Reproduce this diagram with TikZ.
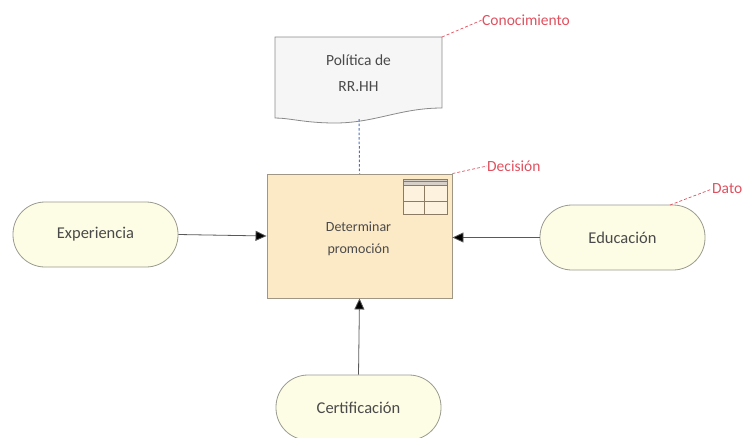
\documentclass[tikz,border=0pt]{standalone}
\usepackage{fontspec}
\setmainfont{Carlito}
\usetikzlibrary{arrows.meta}
\definecolor{txtgray}{HTML}{4A4A4A}
\definecolor{lblred}{HTML}{E0505E}
\definecolor{pillfill}{HTML}{FDFCE4}
\definecolor{pillline}{HTML}{9A9A90}
\definecolor{boxfill}{HTML}{FCE9C6}
\definecolor{boxline}{HTML}{A09684}
\definecolor{iconline}{HTML}{8C7A62}
\definecolor{docfill}{HTML}{F6F6F6}
\definecolor{docline}{HTML}{8A8A8A}
\definecolor{linkblue}{HTML}{4A72C0}
\tikzset{
  pill/.style={draw=pillline, fill=pillfill, line width=0.8pt, rounded corners=32pt,
    minimum width=165pt, minimum height=65pt, text=txtgray, font=\fontsize{16.5}{18}\selectfont},
  decisionbox/.style={draw=boxline, fill=boxfill, line width=0.9pt,
    minimum width=185pt, minimum height=124pt, text=txtgray, align=center,
    font=\fontsize{14}{22}\selectfont},
  tag/.style={text=lblred, font=\fontsize{15.5}{18}\selectfont, anchor=west, inner sep=0pt},
  tagline/.style={draw=lblred, dashed, line width=0.7pt, dash pattern=on 3pt off 2pt},
  flow/.style={draw=black!65, line width=0.8pt, -{Triangle[length=11pt,width=10pt,fill=black]}},
  iconrule/.style={draw=iconline, line width=0.9pt},
}
\begin{document}
\begin{tikzpicture}[x=1pt,y=-1pt]
\useasboundingbox (0,0) rectangle (751,437);

% document shape for the knowledge source
\filldraw[draw=docline, fill=docfill, line width=0.8pt]
  (275,37) -- (442,37) -- (442,108)
  .. controls (400,108) and (375,123) .. (335,123)
  .. controls (305,123) and (290,118) .. (275,118) -- cycle;
\node[text=txtgray, align=center, font=\fontsize{15.5}{26}\selectfont] (doc) at (358.5,73) {Política de\\RR.HH};
\coordinate (docbot) at (359,119);
\coordinate (doctr) at (442,37);

% decision
\node[decisionbox] (dec) at (359.5,236) {};
\node[text=txtgray, align=center, font=\fontsize{14}{22}\selectfont] (dectext) at (358.5,239) {Determinar\\promoción};
% table icon
\draw[iconrule, fill=boxfill!60!white] (403,179) rectangle (447,214);
\fill[iconline!35] (403,179) rectangle (447,185);
\draw[iconrule] (403,181.5) -- (447,181.5);
\draw[iconrule] (403,185) -- (447,185);
\draw[iconrule] (403,201.5) -- (447,201.5);
\draw[iconrule] (424,185) -- (424,214);
\draw[iconrule] (403,179) rectangle (447,214);

% input data
\node[pill] (exp) at (95.5,234.5) {Experiencia};
\node[pill] (edu) at (622.5,237.5) {Educación};
\node[pill] (cert) at (358.5,407.5) {Certificación};
\coordinate (edutr) at (670,205);

% information requirements
\draw[flow] (exp.east) -- (dec.west);
\draw[flow] (edu.west) -- (dec.east |- edu.west);
\draw[flow] (cert.north) -- (dec.south);

% knowledge requirement
\draw[linkblue, dashed, line width=1pt, dash pattern=on 2.5pt off 2pt] (docbot) -- (dec.north);

% element type tags
\node[tag] (tknow) at (482,20) {Conocimiento};
\node[tag] (tdec) at (487,166) {Decisión};
\node[tag] (tdata) at (712,189) {Dato};
\draw[tagline] (doctr) -- (tknow.west);
\draw[tagline] (dec.north east) -- (tdec.west);
\draw[tagline] (edutr) -- (tdata.west);
\end{tikzpicture}
\end{document}
